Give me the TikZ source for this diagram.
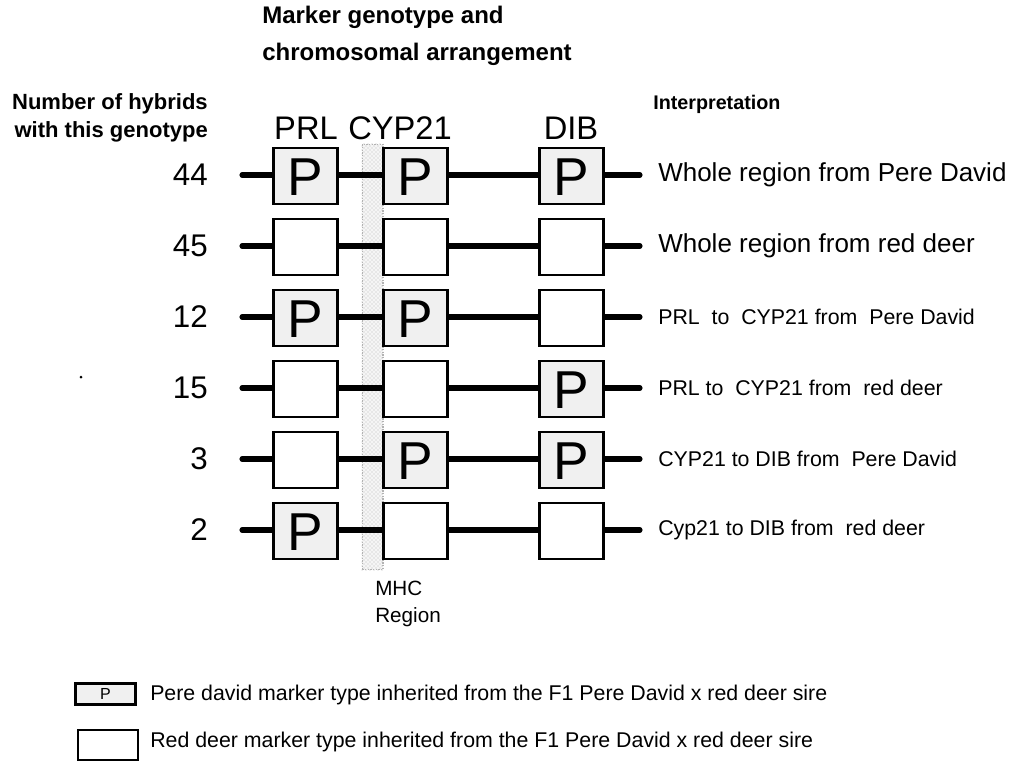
\documentclass[tikz,border=0pt]{standalone}
\usepackage{fontspec}
\setmainfont{Liberation Sans}
\usetikzlibrary{patterns}
\begin{document}
\begin{tikzpicture}[x=0.75pt,y=-0.75pt,
  chrom/.style={line width=3.8pt,line cap=round},
  pbox/.style={draw,line width=2.1pt,fill=gray!12,minimum width=48pt,minimum height=42pt,inner sep=0pt},
  pletter/.style={anchor=base,inner sep=0pt,yshift=-14.5pt,font=\fontsize{40}{40}\selectfont},
  rbox/.style={draw,line width=2.1pt,fill=white,minimum width=48pt,minimum height=42pt,inner sep=0pt},
  num/.style={anchor=east,inner sep=0pt,font=\fontsize{23.5}{23.5}\selectfont},
  head/.style={inner sep=0pt,font=\fontsize{24.5}{24.5}\selectfont},
  big/.style={anchor=west,inner sep=0pt,font=\fontsize{19.5}{19.5}\selectfont},
  small/.style={anchor=west,inner sep=0pt,font=\fontsize{16}{16}\selectfont},
  mhc/.style={draw=gray!60,densely dotted,line width=1pt,fill=gray!8}
]
\useasboundingbox (0,0) rectangle (1012,764);

% titles
\node[anchor=north west,inner sep=0pt,align=left,font=\bfseries\fontsize{18}{28}\selectfont] (title) at (262,6) {Marker genotype and\\chromosomal arrangement};
\node[anchor=east,inner sep=0pt,align=right,font=\bfseries\fontsize{16.5}{20.5}\selectfont] (numhead) at (208,118) {Number of hybrids\\with this genotype};
\node[anchor=west,inner sep=0pt,font=\bfseries\fontsize{14.8}{18}\selectfont] (interp) at (653,104) {Interpretation};

\node[head] (hPRL) at (306,128) {PRL};
\node[head] (hCYP) at (400,128) {CYP21};
\node[head] (hDIB) at (571,128) {DIB};

% MHC region band
\node[mhc,minimum width=15.5pt,minimum height=319pt,inner sep=0pt] (mhcband) at (372.5,357) {};
\fill[pattern=crosshatch dots,pattern color=gray!55] (mhcband.north west) rectangle (mhcband.south east);
\node[anchor=north west,inner sep=0pt,align=left,font=\fontsize{15.5}{20}\selectfont] (mhclabel) at (375,581) {MHC\\Region};

% rows
\foreach \i/\y/\n/\a/\b/\c in {1/175/44/P/P/P, 2/246/45/-/-/-, 3/317/12/P/P/-, 4/388/15/-/-/P, 5/459/3/-/P/P, 6/530/2/P/-/-}{
  \coordinate (s\i) at (242,\y);
  \coordinate (e\i) at (640,\y);
  \draw[chrom] (s\i) -- (e\i);
  \node[num] (n\i) at (208,\y) {\n};
  \foreach \x/\v/\k in {305.5/\a/1, 415.5/\b/2, 571.5/\c/3}{
    \if P\v
      \node[pbox] (b\i\k) at (\x,\y+1) {};
      \node[pletter] (p\i\k) at (b\i\k.center) {P};
    \else
      \node[rbox] (b\i\k) at (\x,\y+1) {};
    \fi
  }
}

% interpretations
\node[big] (l1) at (658,175) {Whole region from Pere David};
\node[big] (l2) at (658,246) {Whole region from red deer};
\node[small] (l3) at (658,317) {PRL\ \ to\ \ CYP21 from\ \ Pere David};
\node[small] (l4) at (658,388) {PRL to\ \ CYP21 from\ \ red deer};
\node[small] (l5) at (658,459) {CYP21 to DIB from\ \ Pere David};
\node[small] (l6) at (658,530) {Cyp21 to DIB from\ \ red deer};

% stray dot
\fill (81,377) circle (1.5);

% legend
\node[draw,line width=1.8pt,fill=gray!12,minimum width=45pt,minimum height=16pt,inner sep=0pt,font=\fontsize{12}{12}\selectfont] (legP) at (105.5,694) {P};
\node[draw,line width=1.5pt,fill=white,minimum width=45pt,minimum height=22pt,inner sep=0pt] (legR) at (108,745) {};
\node[anchor=west,inner sep=0pt,font=\fontsize{16}{16}\selectfont] (legPt) at (150,695) {Pere david marker type inherited from the F1 Pere David x red deer sire};
\node[anchor=west,inner sep=0pt,font=\fontsize{16}{16}\selectfont] (legRt) at (150,742) {Red deer marker type inherited from the F1 Pere David x red deer sire};
\end{tikzpicture}
\end{document}
